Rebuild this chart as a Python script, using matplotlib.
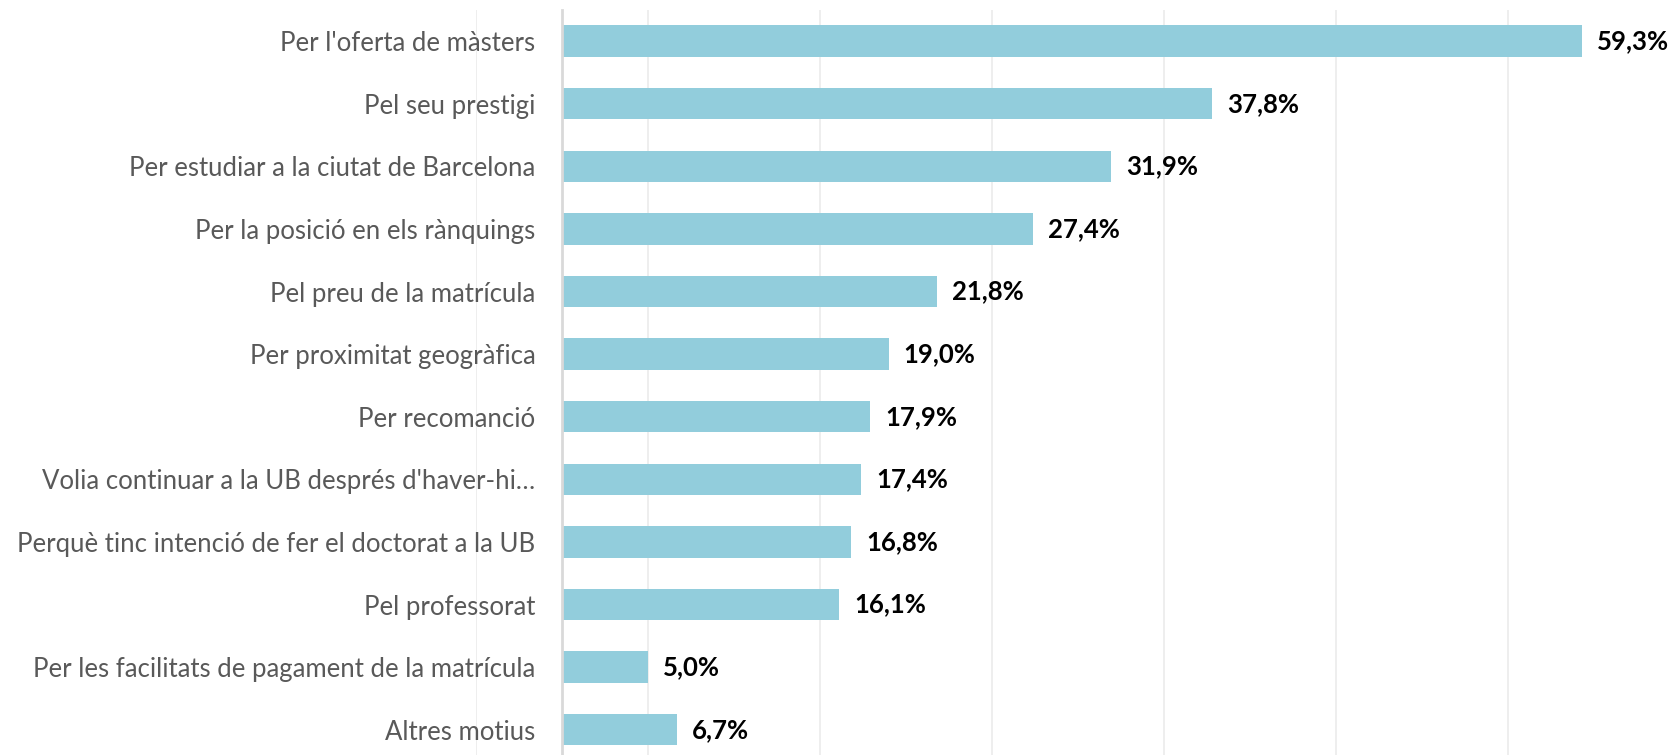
import matplotlib.pyplot as plt
from matplotlib.ticker import MultipleLocator, NullFormatter

categories = [
    "Per l'oferta de màsters",
    "Pel seu prestigi",
    "Per estudiar a la ciutat de Barcelona",
    "Per la posició en els rànquings",
    "Pel preu de la matrícula",
    "Per proximitat geogràfica",
    "Per recomanció",
    "Volia continuar a la UB després d'haver-hi…",
    "Perquè tinc intenció de fer el doctorat a la UB",
    "Pel professorat",
    "Per les facilitats de pagament de la matrícula",
    "Altres motius",
]
values = [59.3, 37.8, 31.9, 27.4, 21.8, 19.0, 17.9, 17.4, 16.8, 16.1, 5.0, 6.7]

plt.rcParams['font.family'] = ['Lato', 'DejaVu Sans']

fig = plt.figure(figsize=(16.73, 7.55), dpi=100)
ax = fig.add_axes([0.2845, -0.008, 0.6683, 0.995])

ypos = list(range(len(categories)))
ax.barh(ypos, values, height=0.5, color='#92CDDC', zorder=2)

for y, v in zip(ypos, values):
    ax.annotate(f"{v:.1f}%".replace('.', ','), (v, y), xytext=(15, 0),
                textcoords='offset pixels', va='center', ha='left',
                fontsize=18.5, fontweight='bold', color='black')

ax.set_ylim(len(categories) - 0.5, -0.5)
ax.set_xlim(-5, 60)
ax.xaxis.set_major_locator(MultipleLocator(10, offset=5))
ax.xaxis.set_major_formatter(NullFormatter())
ax.tick_params(axis='x', length=0)
ax.grid(axis='x', color='#EBEBEB', linewidth=1.2, zorder=0)

ax.set_yticks(ypos)
ax.set_yticklabels(categories)
ax.tick_params(axis='y', length=0, pad=19, labelsize=18.5, labelcolor='#595959')

for s in ['top', 'right', 'bottom']:
    ax.spines[s].set_visible(False)
ax.spines['left'].set_position(('data', 0))
ax.spines['left'].set_color('#D9D9D9')
ax.spines['left'].set_linewidth(2)
ax.spines['left'].set_zorder(3)

fig.savefig('out.png', dpi=100)
